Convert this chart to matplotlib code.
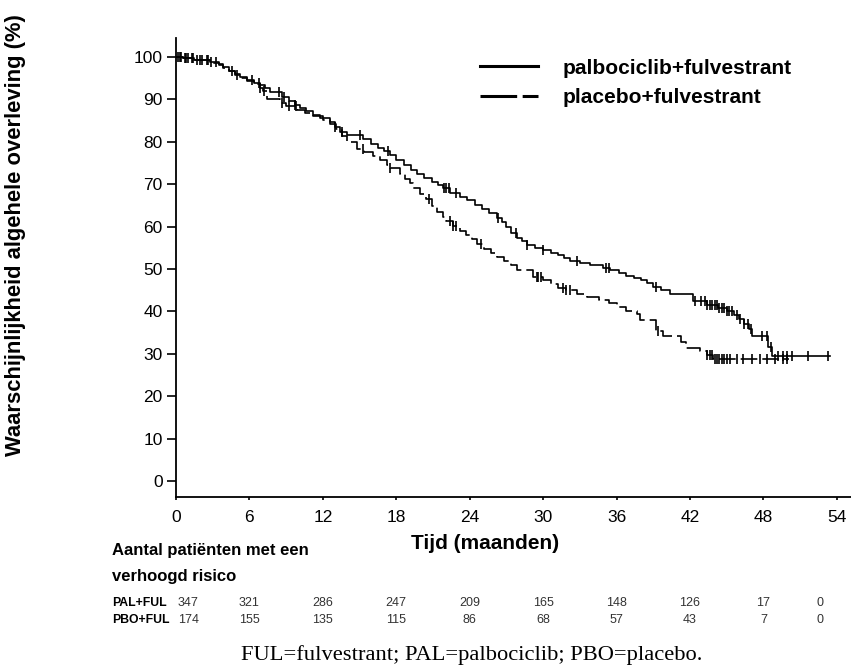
import numpy as np
import matplotlib.pyplot as plt
from matplotlib.lines import Line2D
import matplotlib.transforms as mtransforms
from matplotlib import font_manager

plt.rcParams['font.family'] = ['Liberation Sans', 'DejaVu Sans']

# Kaplan-Meier stappen (tijd in maanden, overleving in %)
pal_t = [0, 0.6, 1.5, 2.8, 3.5, 3.8, 4.3, 4.8, 5.2, 5.8, 6.4, 6.9, 7.3, 7.7, 8.7, 9.2,
         9.7, 10.1, 10.6, 11.2, 11.8, 12.6, 13.0, 13.4, 14.0, 15.3, 15.9, 16.5, 17.0,
         17.5, 18.0, 18.6, 19.2, 19.7, 20.3, 20.9, 21.4, 21.8, 22.4, 23.2, 23.8, 24.4,
         25.0, 25.6, 26.2, 26.6, 27.0, 27.4, 27.9, 28.3, 28.7, 29.3, 30.0, 30.6, 31.2,
         31.7, 32.2, 33.0, 33.8, 34.9, 35.5, 36.2, 36.8, 37.4, 38.0, 38.5, 39.0, 39.6,
         40.4, 42.2, 43.4, 44.3, 45.0, 45.6, 46.0, 46.4, 46.8, 47.1, 48.4, 48.7]
pal_s = [100, 99.8, 99.4, 98.8, 98.3, 97.6, 96.8, 96.0, 95.3, 94.6, 94.0, 93.3, 92.6,
         91.8, 90.6, 89.6, 88.8, 88.0, 87.2, 86.4, 85.6, 84.6, 83.6, 82.3, 81.6, 80.6,
         79.6, 78.6, 77.8, 77.0, 75.8, 74.6, 73.4, 72.4, 71.4, 70.6, 69.8, 69.0, 68.0,
         67.0, 66.2, 65.2, 64.2, 63.2, 62.0, 61.2, 60.0, 58.4, 57.2, 56.5, 55.6, 55.0,
         54.4, 53.8, 53.2, 52.6, 51.9, 51.4, 51.0, 50.3, 49.7, 49.0, 48.3, 47.8, 47.3,
         46.6, 45.8, 45.0, 44.0, 42.4, 41.6, 40.8, 40.0, 39.2, 38.2, 37.0, 35.8, 34.2,
         31.5, 29.5]
pal_end = 53.4
pal_cens = [0.2, 0.4, 0.7, 1.0, 1.3, 1.7, 2.1, 2.5, 2.9, 3.3, 4.6, 6.2, 6.8, 8.4, 8.8,
            9.7, 13.0, 13.6, 15.0, 17.3, 21.9, 22.1, 22.3, 22.9, 26.3, 27.8, 28.7, 30.0,
            32.8, 35.1, 35.4, 39.2, 42.4, 42.9, 43.2, 43.4, 43.6, 43.8, 44.0, 44.2, 44.4,
            44.6, 44.8, 45.0, 45.2, 45.4, 45.8, 46.1, 46.4, 46.7, 47.0, 47.9, 48.3, 48.6,
            49.2, 49.6, 49.9, 50.3, 51.6, 53.3]

pbo_t = [0, 0.6, 1.5, 2.8, 3.5, 3.8, 4.3, 4.8, 5.2, 5.8, 6.4, 6.9, 7.1, 7.4, 8.5, 9.0,
         9.9, 10.5, 11.2, 12.0, 12.6, 13.1, 13.6, 14.0, 14.8, 15.4, 16.1, 16.7, 17.2,
         17.5, 18.3, 18.7, 19.1, 19.4, 19.9, 20.4, 20.9, 21.3, 21.8, 22.1, 22.6, 23.2,
         23.7, 24.2, 24.6, 25.2, 25.7, 26.2, 26.8, 27.4, 27.9, 29.2, 30.0, 30.6, 31.2,
         31.9, 32.8, 33.6, 34.6, 35.4, 36.0, 36.8, 37.7, 37.9, 39.2, 39.8, 41.3, 41.7,
         42.8, 43.4, 43.9]
pbo_s = [100, 99.8, 99.3, 98.7, 98.2, 97.4, 96.6, 95.8, 95.1, 94.4, 93.6, 92.8, 91.9,
         90.2, 89.2, 88.4, 87.5, 86.7, 86.0, 85.2, 84.2, 83.0, 81.4, 80.0, 78.4, 77.6,
         76.6, 75.6, 74.6, 73.8, 72.4, 71.3, 70.2, 69.0, 67.8, 66.4, 64.8, 63.4, 62.3,
         61.3, 60.2, 59.0, 58.0, 57.0, 55.8, 54.8, 53.8, 52.8, 51.8, 51.0, 49.8, 48.2,
         47.4, 46.4, 45.6, 45.0, 44.2, 43.4, 42.6, 42.0, 41.0, 40.2, 39.4, 38.0, 35.4,
         34.2, 32.8, 31.4, 30.7, 29.8, 28.8]
pbo_end = 50.1
pbo_cens = [0.3, 0.8, 1.4, 2.0, 2.6, 5.0, 6.9, 7.2, 8.7, 9.2, 9.8, 15.3, 17.5, 20.7,
            22.4, 22.6, 22.9, 24.9, 29.5, 29.6, 29.8, 31.6, 31.9, 32.2, 39.4, 43.4, 43.6,
            43.8, 44.0, 44.2, 44.4, 44.6, 44.8, 45.0, 45.3, 45.8, 46.3, 47.1, 47.7, 48.3,
            48.9, 49.6, 49.9]

risk_times = [0, 6, 12, 18, 24, 30, 36, 42, 48, 54]
pal_risk = [347, 321, 286, 247, 209, 165, 148, 126, 17, 0]
pbo_risk = [174, 155, 135, 115, 86, 68, 57, 43, 7, 0]


def step_value(t, s, times):
    idx = np.searchsorted(t, times, side='right') - 1
    return np.array(s)[idx]


# smalle letter voor de risicotabel, als die er is
installed = {f.name for f in font_manager.fontManager.ttflist}
if 'Liberation Sans Narrow' in installed:
    narrow, lab_size, num_size = 'Liberation Sans Narrow', 11.5, 9.5
elif 'DejaVu Sans Condensed' in installed:
    narrow, lab_size, num_size = 'DejaVu Sans Condensed', 9.5, 8.5
else:
    narrow, lab_size, num_size = 'Liberation Sans', 8.8, 9

fig = plt.figure(figsize=(8.51, 6.70), dpi=100)
ax = fig.add_axes([176 / 851, 1 - 497 / 670, 675 / 851, 459 / 670])

ax.step(pal_t + [pal_end], pal_s + [pal_s[-1]], where='post', color='black', lw=1.2)
ax.plot(pal_cens, step_value(pal_t, pal_s, pal_cens), ls='none', marker='|',
        ms=7, mew=1.2, color='black')

line_pbo, = ax.step(pbo_t + [pbo_end], pbo_s + [pbo_s[-1]], where='post',
                    color='black', lw=1.2)
line_pbo.set_dashes((10, 3))
ax.plot(pbo_cens, step_value(pbo_t, pbo_s, pbo_cens), ls='none', marker='|',
        ms=7, mew=1.2, color='black')

ax.set_xlim(0, 55.15)
ax.set_ylim(-3.8, 104.5)
ax.set_xticks(risk_times)
ax.set_yticks(np.arange(0, 101, 10))
ax.spines['top'].set_visible(False)
ax.spines['right'].set_visible(False)
ax.spines['left'].set_linewidth(1.3)
ax.spines['bottom'].set_linewidth(1.3)
ax.tick_params(axis='y', length=6.5, width=1.2, pad=3, labelsize=12.5)
ax.tick_params(axis='x', length=2.5, width=1.2, pad=7, labelsize=12.5)

ax.set_xlabel('Tijd (maanden)', fontsize=15, fontweight='bold')
ax.xaxis.set_label_coords(0.458, -0.08)
fig.text(0.018, 1 - 235 / 670, 'Waarschijnlijkheid algehele overleving (%)',
         rotation=90, ha='center', va='center', fontsize=15.8, fontweight='bold')

# legenda
h_pal = Line2D([], [], color='black', lw=2.2)
h_pbo = Line2D([], [], color='black', lw=2.2, dashes=(12, 1.8))
ax.legend([h_pal, h_pbo], ['palbociclib+fulvestrant', 'placebo+fulvestrant'],
          loc='upper left', bbox_to_anchor=(0.4226, 0.996), frameon=False,
          prop={'weight': 'bold', 'size': 15}, handlelength=2.8,
          handletextpad=1.15, labelspacing=0.5, borderaxespad=0.5)

# risicotabel
tr = mtransforms.blended_transform_factory(ax.transData, fig.transFigure)
fig.text(112 / 851, 1 - 551 / 670, 'Aantal patiënten met een', fontsize=12,
         fontweight='bold', va='center')
fig.text(112 / 851, 1 - 577 / 670, 'verhoogd risico', fontsize=12,
         fontweight='bold', va='center')
fig.text(112 / 851, 1 - 603 / 670, 'PAL+FUL', fontsize=lab_size, fontweight='bold',
         va='center', family=narrow)
fig.text(112 / 851, 1 - 620 / 670, 'PBO+FUL', fontsize=lab_size, fontweight='bold',
         va='center', family=narrow)
risk_x = [1.0] + risk_times[1:-1] + [52.6]
for x, a, b in zip(risk_x, pal_risk, pbo_risk):
    ax.text(x, 1 - 603 / 670, str(a), transform=tr, ha='center', va='center',
            fontsize=num_size, color='#333333', family=narrow)
    ax.text(x, 1 - 620 / 670, str(b), transform=tr, ha='center', va='center',
            fontsize=num_size, color='#333333', family=narrow)

fig.text(472 / 851, 1 - 655 / 670, 'FUL=fulvestrant; PAL=palbociclib; PBO=placebo.',
         ha='center', va='center', fontsize=16.2, family='Liberation Serif')

fig.savefig('out.png', dpi=100)
